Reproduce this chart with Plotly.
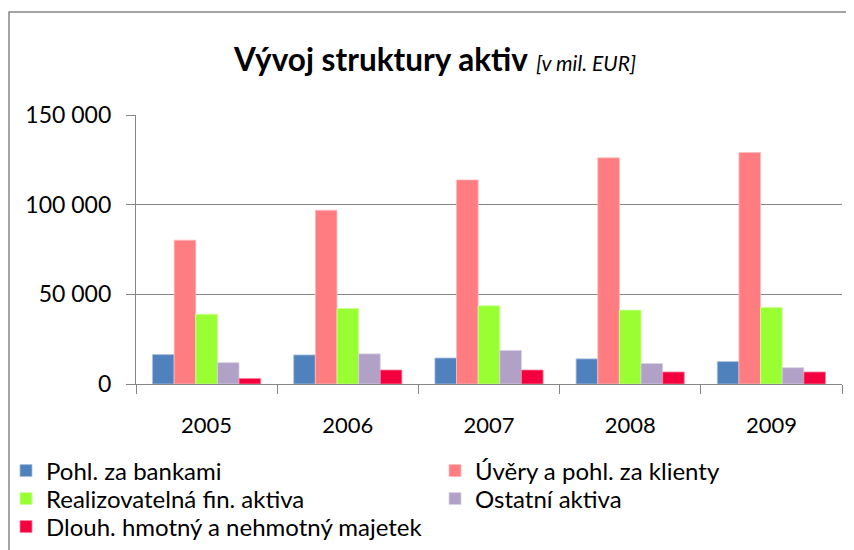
import plotly.graph_objects as go

years = ["2005", "2006", "2007", "2008", "2009"]
series_names = [
    "Pohl. za bankami",
    "Úvěry a pohl. za klienty",
    "Realizovatelná fin. aktiva",
    "Ostatní aktiva",
    "Dlouh. hmotný a nehmotný majetek",
]
pohl_banky = [16400, 16200, 14500, 14000, 12500]
uvery_klienti = [80200, 96900, 113800, 126100, 129100]
realizovatelna = [38900, 42100, 43600, 41200, 42700]
ostatni = [11900, 16800, 18700, 11400, 9100]
dlouh_majetek = [3100, 7800, 7800, 6700, 6700]
colors = ["#4F81BD", "#FF7C80", "#99FF33", "#B2A1C7", "#F5003F"]
edge_colors = ["#A7C0DE", "#FFBDBF", "#CCFF99", "#D8D0E3", "#FA7F9F"]

values = [pohl_banky, uvery_klienti, realizovatelna, ostatni, dlouh_majetek]

FONT = "Lato"
OFF = 8  # page body margin of the browser
W, H = 854 - OFF, 550 - OFF
L, R, T, B = 136 - OFF, 12, 115 - OFF, 166
pw = W - L - R
ph = H - T - B
bottom_px = T + ph


def px_x(win_x):
    return (win_x - OFF - L) / pw


def px_y(win_y):
    return (bottom_px - (win_y - OFF)) / ph


# one legend per entry, placed by (square-left, row centre) in window pixels
legend_ids = ["legend", "legend2", "legend3", "legend4", "legend5"]
legend_sq_left = [20, 449, 20, 449, 20]
legend_row_y = [471, 471, 499, 499, 527]

fig = go.Figure()
for i, (name, vals, c, ec) in enumerate(zip(series_names, values, colors, edge_colors)):
    fig.add_trace(go.Bar(
        x=years, y=vals, name=name, legend=legend_ids[i],
        marker=dict(color=c, line=dict(color=ec, width=0.8)),
    ))

legend_layout = {}
for lid, sx, ry in zip(legend_ids, legend_sq_left, legend_row_y):
    legend_layout[lid] = dict(
        x=px_x(sx - 14), xanchor="left",
        y=px_y(ry), yanchor="middle",
        font=dict(family=FONT, size=24, color="black"),
        itemclick=False, bgcolor="rgba(0,0,0,0)", borderwidth=0,
    )

grid = "#868686"
fig.update_layout(
    width=W, height=H,
    margin=dict(l=L, r=R, t=T, b=B, autoexpand=False),
    paper_bgcolor="white", plot_bgcolor="white",
    barmode="group", bargap=0.234, bargroupgap=0,
    separators=", ",
    showlegend=True,
    font=dict(family=FONT, size=22, color="black"),
    title=dict(
        text="<b>Vývoj struktury aktiv</b> <i><span style='font-size:21px'>[v mil. EUR]</span></i>",
        font=dict(family=FONT, size=31.5, color="black"),
        xref="container", x=(435 - OFF) / W, xanchor="center",
        yref="container", y=1 - (60 - OFF) / H, yanchor="middle",
    ),
    xaxis=dict(
        type="category", range=[-0.5, 4.5],
        showline=True, linecolor=grid, linewidth=1.3,
        ticks="outside", tickson="boundaries", ticklen=9, tickcolor=grid, tickwidth=1.3,
        showgrid=False, tickfont=dict(size=22), ticklabelstandoff=21,
    ),
    yaxis=dict(
        range=[0, 150000], dtick=50000, tickformat=",d",
        showline=True, linecolor=grid, linewidth=1.3,
        ticks="outside", ticklen=9, tickcolor=grid, tickwidth=1.3,
        showgrid=True, gridcolor=grid, gridwidth=1.4, zeroline=False,
        tickfont=dict(size=23), ticklabelstandoff=10,
    ),
    shapes=[dict(
        type="rect", xref="paper", yref="paper", layer="below",
        x0=px_x(OFF + 1), x1=px_x(870),
        y0=px_y(12), y1=px_y(570),
        line=dict(color=grid, width=1.5), fillcolor="rgba(0,0,0,0)",
    )],
    **legend_layout,
)

fig.write_html("out.html")
